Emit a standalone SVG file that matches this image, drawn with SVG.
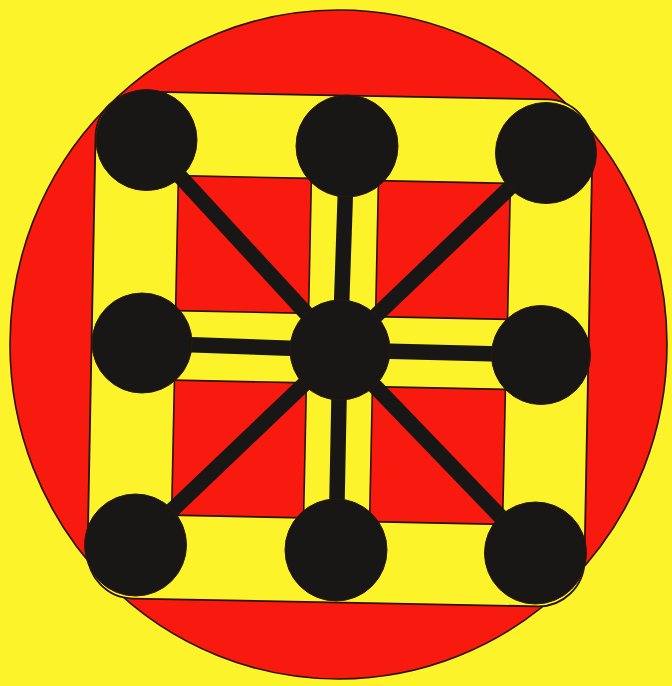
<svg xmlns="http://www.w3.org/2000/svg" width="672" height="686" viewBox="0 0 672 686">
<defs>
<style>
.red{fill:#F8190F;stroke:#2a1208;stroke-width:1.6}
.yel{fill:#FCF32B;stroke:#2a1208;stroke-width:1.8}
.node{fill:#181716;stroke:#2a1a10;stroke-width:1}
.bar{stroke:#181716;stroke-width:15.5;stroke-linecap:butt}
</style>
</defs>
<rect x="0" y="0" width="672" height="686" fill="#FCF32B"/>
<ellipse cx="338.5" cy="344.5" rx="328.5" ry="334.5" class="red" stroke-width="2"/>
<rect class="yel" x="91.5" y="95.5" width="497" height="507" rx="46" transform="rotate(1.1 340 349)"/>
<g id="red-squares">
<rect class="red" x="177" y="177" width="133" height="135" transform="rotate(1.2 243.5 244.5)"/>
<rect class="red" x="377" y="182" width="132" height="136" transform="rotate(1.2 443 250)"/>
<rect class="red" x="173" y="381.5" width="132" height="135" transform="rotate(1.2 239 449)"/>
<rect class="red" x="371" y="388" width="133" height="135" transform="rotate(1.2 437.5 455.5)"/>
</g>
<g id="connectors">
<line class="bar" x1="340" y1="350" x2="146.5" y2="140"/>
<line class="bar" x1="340" y1="350" x2="347" y2="146"/>
<line class="bar" x1="340" y1="350" x2="546" y2="153"/>
<line class="bar" x1="340" y1="350" x2="142" y2="343"/>
<line class="bar" x1="340" y1="350" x2="541" y2="355"/>
<line class="bar" x1="340" y1="350" x2="135.5" y2="545"/>
<line class="bar" x1="340" y1="350" x2="336" y2="550"/>
<line class="bar" x1="340" y1="350" x2="535.5" y2="553"/>
</g>
<g id="node-tl"><circle class="node" cx="146.5" cy="140" r="50.5"/></g>
<g id="node-tm"><circle class="node" cx="347" cy="146" r="51"/></g>
<g id="node-tr"><circle class="node" cx="546" cy="153" r="50.5"/></g>
<g id="node-ml"><circle class="node" cx="142" cy="343" r="50"/></g>
<g id="node-c"><circle class="node" cx="340" cy="350" r="50"/></g>
<g id="node-mr"><circle class="node" cx="541" cy="355" r="49.5"/></g>
<g id="node-bl"><circle class="node" cx="135.5" cy="545" r="51"/></g>
<g id="node-bm"><circle class="node" cx="336" cy="550" r="51"/></g>
<g id="node-br"><circle class="node" cx="535.5" cy="553" r="51"/></g>
</svg>
